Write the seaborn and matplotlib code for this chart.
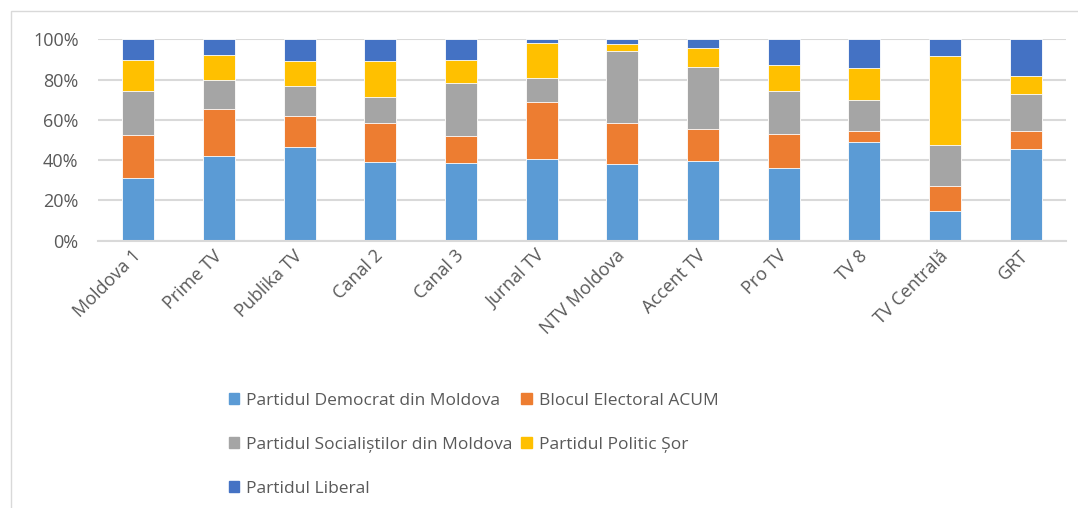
import numpy as np
import pandas as pd
import matplotlib
matplotlib.use("Agg")
import matplotlib.pyplot as plt
import seaborn as sns
from matplotlib.patches import Patch, Rectangle
from matplotlib.ticker import PercentFormatter

# canale TV
canale = ["Moldova 1", "Prime TV", "Publika TV", "Canal 2", "Canal 3", "Jurnal TV",
          "NTV Moldova", "Accent TV", "Pro TV", "TV 8", "TV Centrală", "GRT"]

# cota fiecărui partid (%)
pdm = [31.0, 42.2, 46.4, 38.9, 38.6, 40.4, 38.2, 39.4, 36.3, 48.8, 14.6, 45.4]
acum = [21.6, 23.4, 15.7, 19.5, 13.6, 28.3, 20.2, 15.9, 16.5, 5.8, 12.4, 9.2]
psrm = [21.9, 14.0, 14.6, 13.1, 25.9, 12.3, 36.0, 31.0, 21.5, 15.1, 20.7, 18.2]
sor = [15.2, 12.6, 12.4, 17.7, 11.8, 17.3, 3.3, 9.4, 13.1, 16.2, 44.2, 9.2]
pl = [10.3, 7.8, 10.9, 10.8, 10.1, 1.7, 2.3, 4.3, 12.6, 14.1, 8.1, 18.0]

partide = ["Partidul Democrat din Moldova", "Blocul Electoral ACUM",
           "Partidul Socialiștilor din Moldova", "Partidul Politic Șor", "Partidul Liberal"]
culori = ["#5B9BD5", "#ED7D31", "#A5A5A5", "#FFC000", "#4472C4"]

df = pd.DataFrame({"canal": canale, partide[0]: pdm, partide[1]: acum,
                   partide[2]: psrm, partide[3]: sor, partide[4]: pl})
cum = df[partide].cumsum(axis=1)

sns.set_theme(style="white")
plt.rcParams['font.family'] = ['Open Sans', 'DejaVu Sans']

fig = plt.figure(figsize=(10.78, 5.08), dpi=100)
ax = fig.add_axes([98 / 1078, 1 - 240.7 / 508, (1066 - 98) / 1078, (240.7 - 39.3) / 508])

# bare stivuite: desenez sumele cumulate de sus in jos
for p, c in reversed(list(zip(partide, culori))):
    sns.barplot(x=df["canal"], y=cum[p], color=c, width=0.4, ax=ax,
                saturation=1, edgecolor="white", linewidth=0.6)

ax.set_ylim(0, 100)
ax.set_xlim(-0.5, len(canale) - 0.5)
ax.set_yticks(range(0, 101, 20))
ax.yaxis.set_major_formatter(PercentFormatter(decimals=0))
ax.grid(axis="y", color="#d9d9d9", linewidth=1.5)
ax.set_axisbelow(True)
for s in ["top", "right", "left"]:
    ax.spines[s].set_visible(False)
ax.spines["bottom"].set_color("#d9d9d9")
ax.spines["bottom"].set_linewidth(1.5)
ax.set_xlabel("")
ax.set_ylabel("")
ax.tick_params(axis="y", length=0, pad=14, labelsize=13, labelcolor="#595959")
ax.tick_params(axis="x", length=0, pad=9, labelsize=13, labelcolor="#595959")
plt.setp(ax.get_xticklabels(), rotation=45, ha="right", va="center", rotation_mode="anchor")

# legenda pe doua coloane, ordine pe randuri
h = [Patch(color=c) for c in culori]
ordine = [0, 2, 4, 1, 3]
fig.legend([h[i] for i in ordine], [partide[i] for i in ordine], ncol=2,
           loc="upper left", bbox_to_anchor=(229 / 1078, 1 - 393 / 508),
           frameon=False, fontsize=12.5, labelcolor="#595959",
           handlelength=0.6, handleheight=0.6, handletextpad=0.4,
           columnspacing=0.5, labelspacing=1.6, borderpad=0, borderaxespad=0)

# chenarul graficului
fig.patches.append(Rectangle((11 / 1078, -0.2), 1.5, 1 - 11 / 508 + 0.2,
                             transform=fig.transFigure, fill=False,
                             edgecolor="#d9d9d9", linewidth=1))

fig.savefig("out.png", dpi=100)
